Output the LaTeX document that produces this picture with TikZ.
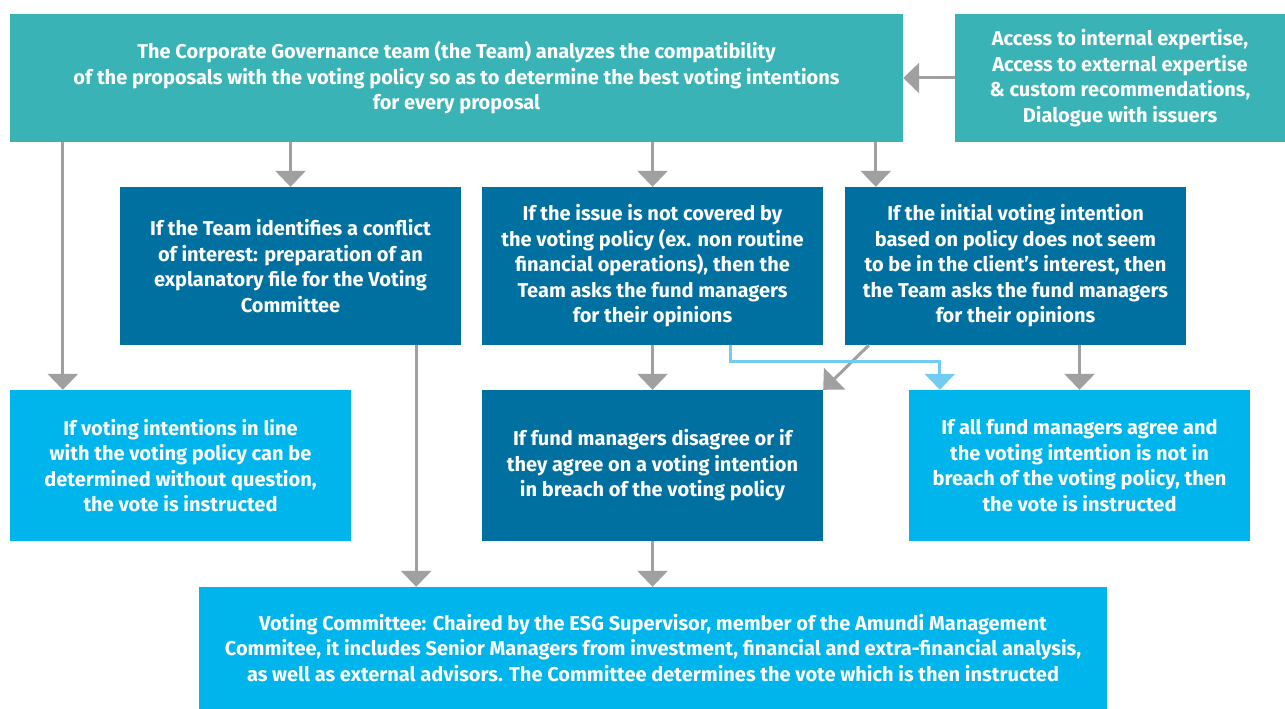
\documentclass[tikz,border=0pt]{standalone}
\usepackage{fontspec}
\setmainfont{Fira Sans}
\usetikzlibrary{arrows.meta,calc}
\definecolor{teal1}{HTML}{3AB3B6}
\definecolor{dblue}{HTML}{0070A1}
\definecolor{lblue}{HTML}{00B5EC}
\definecolor{agray}{HTML}{A0A0A0}
\definecolor{acyan}{HTML}{72CCF2}
\tikzset{
  box/.style={rectangle,inner sep=0pt,align=center,text=white,font=\fontsize{20}{25.5}\selectfont\bfseries},
  tealbox/.style={box,fill=teal1},
  darkbox/.style={box,fill=dblue},
  lightbox/.style={box,fill=lblue},
  arr/.style={draw=agray,line width=3pt,-{Triangle[width=30pt,length=16pt]}},
  carr/.style={draw=acyan,line width=3pt,-{Triangle[width=30pt,length=16pt]}}
}
\begin{document}
\begin{tikzpicture}[x=1pt,y=-1pt]
\useasboundingbox (0,0) rectangle (1285,709);
\node[tealbox,minimum width=893pt,minimum height=128pt] (top) at (456.5,78) {The Corporate Governance team (the Team) analyzes the compatibility\\of the proposals with the voting policy so as to determine the best voting intentions\\for every proposal};
\node[tealbox,minimum width=330pt,minimum height=128pt] (ext) at (1120,78) {Access to internal expertise,\\Access to external expertise\\\& custom recommendations,\\Dialogue with issuers};
\node[darkbox,minimum width=341pt,minimum height=158pt] (A) at (290.5,266) {If the Team identifies a conflict\\of interest: preparation of an\\explanatory file for the Voting\\Committee};
\node[darkbox,minimum width=341pt,minimum height=158pt] (B) at (652.5,266) {If the issue is not covered by\\the voting policy (ex. non routine\\financial operations), then the\\Team asks the fund managers\\for their opinions};
\node[darkbox,minimum width=341pt,minimum height=158pt] (C) at (1015.5,266) {If the initial voting intention\\based on policy does not seem\\to be in the client’s interest, then\\the Team asks the fund managers\\for their opinions};
\node[lightbox,minimum width=341pt,minimum height=151pt] (L) at (180.5,465.5) {If voting intentions in line\\with the voting policy can be\\determined without question,\\the vote is instructed};
\node[darkbox,minimum width=341pt,minimum height=151pt] (M) at (652.5,465.5) {If fund managers disagree or if\\they agree on a voting intention\\in breach of the voting policy};
\node[lightbox,minimum width=341pt,minimum height=151pt] (R) at (1079.5,465.5) {If all fund managers agree and\\the voting intention is not in\\breach of the voting policy, then\\the vote is instructed};
\node[lightbox,minimum width=908pt,minimum height=122pt] (V) at (653,648) {Voting Committee: Chaired by the ESG Supervisor, member of the Amundi Management\\Commitee, it includes Senior Managers from investment, financial and extra-financial analysis,\\as well as external advisors. The Committee determines the vote which is then instructed};
% arrows
\draw[arr] (ext.west) -- (top.east);
\draw[arr] ([xshift=53pt]top.south west) -- ([xshift=53pt]L.north west);
\draw[arr] (top.south -| A.north) -- (A.north);
\draw[arr] (top.south -| B.north) -- (B.north);
\draw[arr] ([xshift=31pt]C.north west |- top.south) -- ([xshift=31pt]C.north west);
\draw[arr] ([xshift=-45pt]A.south east) -- ([xshift=-45pt]A.south east |- V.north);
\draw[arr] (B.south) -- (M.north);
\draw[arr] (M.south) -- (V.north -| M.south);
\draw[arr] (C.south -| R.north) -- (R.north);
\draw[arr] ([xshift=24pt]C.south west) -- (M.north east);
\coordinate (cb) at ([xshift=249pt]B.south west);
\coordinate (cr) at ([xshift=31pt]R.north west);
\draw[carr] (cb) -- ++(0,16) -| (cr);
\end{tikzpicture}
\end{document}
